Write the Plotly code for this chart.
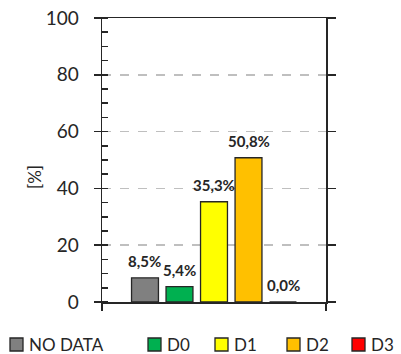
import plotly.graph_objects as go

categories = ["NO DATA", "D0", "D1", "D2", "D3"]
values = [8.5, 5.4, 35.3, 50.8, 0.0]
colors = ["#808080", "#00B050", "#FFFF00", "#FFC000", "#FF0000"]
y_ticks = [0, 20, 40, 60, 80, 100]

FONT = "Lato"
W, H = 401, 354
ML, MR, MT, MB = 102, 75, 18, 52
PW, PH = W - ML - MR, H - MT - MB


def px_to_paper(x, y):
    return (x - ML) / PW, (H - MB - y) / PH


fig = go.Figure()
positions = list(range(len(categories)))
for pos, name, val, col in zip(positions, categories, values, colors):
    fig.add_trace(go.Bar(
        x=[pos], y=[val], name=name, width=0.78,
        marker=dict(color=col, line=dict(color="#262626", width=1.3)),
        hoverinfo="skip", showlegend=False,
    ))
    fig.add_annotation(
        x=pos, y=val, text=f"{val:.1f}%".replace(".", ","),
        showarrow=False, xanchor="center", yanchor="middle", yshift=17,
        font=dict(family=FONT, size=15, color="#262626", weight="bold"),
    )

# custom legend row (squares + labels)
legend_square_x = [10, 148, 215, 287, 352]
for name, col, sx in zip(categories, colors, legend_square_x):
    x0, y0 = px_to_paper(sx, 351)
    x1, y1 = px_to_paper(sx + 13, 338)
    fig.add_shape(type="rect", xref="paper", yref="paper",
                  x0=x0, x1=x1, y0=y0, y1=y1,
                  fillcolor=col, line=dict(color="#262626", width=1.3))
    tx, ty = px_to_paper(sx + 18, 344)
    fig.add_annotation(xref="paper", yref="paper", x=tx, y=ty, text=name,
                       xanchor="left", yanchor="middle", showarrow=False,
                       borderpad=0,
                       font=dict(family=FONT, size=17, color="#262626"))

# secondary y axis just for the right frame ticks
fig.add_trace(go.Scatter(x=[None], y=[None], yaxis="y2", showlegend=False))

lo, hi = -1.246, 5.246
fig.update_layout(
    width=W, height=H,
    margin=dict(l=ML, r=MR, t=MT, b=MB, autoexpand=False),
    plot_bgcolor="white", paper_bgcolor="white",
    barmode="overlay",
    font=dict(family=FONT, color="#262626"),
    showlegend=False,
    xaxis=dict(
        range=[lo, hi], showline=True, linecolor="#262626", linewidth=1.5,
        mirror=True, ticks="outside", ticklen=7, tickcolor="#262626",
        tickwidth=1.5,
        tickvals=[lo, hi], showticklabels=False, showgrid=False, zeroline=False,
        fixedrange=True,
    ),
    yaxis=dict(
        range=[0, 100], tickvals=y_ticks, ticks="outside", ticklen=7,
        tickwidth=1.5, tickcolor="#262626",
        showline=True, linecolor="#262626", linewidth=1.5,
        showgrid=True, gridcolor="#BFBFBF", griddash="dash", gridwidth=1.5,
        zeroline=False, ticklabeloverflow="allow",
        tickfont=dict(family=FONT, size=19, color="#262626"),
        ticklabelstandoff=11,
        minor=dict(dtick=5, ticks="inside", ticklen=6, tickwidth=1.5,
                   tickcolor="#262626", showgrid=False),
    ),
    yaxis2=dict(
        range=[0, 100], overlaying="y", side="right", tickvals=y_ticks,
        ticks="outside", ticklen=8, tickwidth=1.5, tickcolor="#262626",
        showline=True, linecolor="#262626", linewidth=1.5,
        showticklabels=False, showgrid=False, zeroline=False,
    ),
)
tx, ty = px_to_paper(34, 177)
fig.add_annotation(
    xref="paper", yref="paper", x=tx, y=ty, xanchor="center", yanchor="middle",
    text="[%]", textangle=-90, showarrow=False,
    font=dict(family=FONT, size=17, color="#262626"),
)

fig.write_html(
    "out.html",
    config={"displayModeBar": False, "staticPlot": True},
    post_script="document.body.style.margin='0';document.body.style.overflow='hidden';",
)
